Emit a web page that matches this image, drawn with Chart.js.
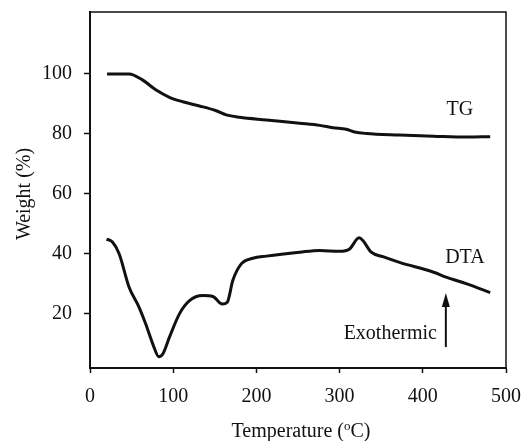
<!DOCTYPE html>
<html>
<head>
<meta charset="utf-8">
<script src="https://cdn.jsdelivr.net/npm/chart.js@4/dist/chart.umd.min.js"></script>
<style>
  html,body{margin:0;padding:0;background:#fff;}
  #wrap{width:529px;height:441px;position:relative;}
</style>
</head>
<body>
<div id="wrap"><canvas id="c"></canvas></div>
<script>
// TG curve (temperature °C, weight %)
const tgTemp = [20.5,47,63,79.5,95.5,111.5,131.6,151.7,163.7,179.8,212,252,276,292,308,318,332,372,413,453,481];
const tgVal  = [100,100,98,94.6,92.2,90.7,89.3,87.7,86.3,85.5,84.6,83.5,82.8,82,81.5,80.6,80.1,79.6,79.2,78.9,79];
// DTA curve
const dtaTemp = [20,27,35,47,59,67,75.5,82.7,87.5,95.5,107.5,119.6,135.6,147.7,159,165,171.7,181.8,195.8,212,252,276,300,312,323.5,328,338,352,372,413,429,453,481];
const dtaVal  = [44.8,43.8,39.9,28.7,22,16.4,9.7,5.5,6.4,12,19.8,24.2,25.9,25.6,23.1,23.7,31,36.5,38.4,39.1,40.4,41,40.7,41.5,45.2,44.3,40.4,38.9,37,33.7,32,29.8,26.9];
const xTicks = [0,100,200,300,400,500];
const yTicks = [20,40,60,80,100];

const FONT = "'Liberation Serif','Times New Roman',serif";
const INK = '#111';
const FS = 20;
const pts = (xs,ys)=>xs.map((x,i)=>({x,y:ys[i]}));

const extras = {
  id:'extras',
  afterDraw(chart){
    const {ctx,chartArea:a,scales:{x,y}}=chart;
    ctx.save();
    // frame top + right
    ctx.strokeStyle=INK; ctx.lineWidth=1.5;
    ctx.beginPath(); ctx.moveTo(a.left,a.top); ctx.lineTo(a.right,a.top); ctx.lineTo(a.right,a.bottom); ctx.stroke();
    ctx.fillStyle=INK; ctx.font=FS+'px '+FONT; ctx.textBaseline='middle';
    ctx.textAlign='center';
    ctx.fillText('TG', x.getPixelForValue(444.6), y.getPixelForValue(88));
    ctx.fillText('DTA', x.getPixelForValue(450.6), y.getPixelForValue(38.5));
    ctx.textAlign='right';
    ctx.fillText('Exothermic', x.getPixelForValue(417), y.getPixelForValue(13.2));
    // arrow
    const ax=x.getPixelForValue(427.7), y0=y.getPixelForValue(8.7), y1=y.getPixelForValue(26.8);
    ctx.lineWidth=2;
    ctx.beginPath(); ctx.moveTo(ax,y0); ctx.lineTo(ax,y1+10); ctx.stroke();
    ctx.beginPath(); ctx.moveTo(ax,y1); ctx.lineTo(ax-4,y1+14); ctx.lineTo(ax+4,y1+14); ctx.closePath(); ctx.fill();
    // axis titles
    const tx=(a.left+a.right)/2+3, ty=432;
    const t1='Temperature (', t2='C)';
    ctx.font=FS+'px '+FONT;
    const w1=ctx.measureText(t1).width, w2=ctx.measureText(t2).width;
    ctx.font='13px '+FONT; const wo=ctx.measureText('o').width;
    const sx=tx-(w1+wo+w2)/2;
    ctx.textAlign='left'; ctx.font=FS+'px '+FONT;
    ctx.fillText(t1,sx,ty);
    ctx.font='13px '+FONT; ctx.fillText('o',sx+w1,ty-5);
    ctx.font=FS+'px '+FONT; ctx.fillText(t2,sx+w1+wo,ty);
    ctx.translate(25,(a.top+a.bottom)/2+4); ctx.rotate(-Math.PI/2);
    ctx.textAlign='center'; ctx.fillText('Weight (%)',0,0);
    ctx.restore();
  }
};

new Chart(document.getElementById('c'),{
  type:'line',
  data:{datasets:[
    {label:'TG',data:pts(tgTemp,tgVal),borderColor:INK,borderWidth:3,pointRadius:0,cubicInterpolationMode:'monotone',fill:false},
    {label:'DTA',data:pts(dtaTemp,dtaVal),borderColor:INK,borderWidth:3,pointRadius:0,cubicInterpolationMode:'monotone',fill:false}
  ]},
  options:{
    responsive:true,maintainAspectRatio:false,animation:false,
    layout:{padding:{top:12,right:23,left:0,bottom:0}},
    plugins:{legend:{display:false},tooltip:{enabled:false}},
    scales:{
      x:{type:'linear',min:0,max:500,
        afterBuildTicks:s=>{s.ticks=xTicks.map(v=>({value:v}));},
        afterFit:s=>{s.height=73;s.paddingLeft=0;s.paddingRight=0;},
        grid:{drawOnChartArea:false,drawTicks:true,tickLength:5,tickWidth:1.5,color:INK},
        border:{color:INK,width:2},
        ticks:{color:INK,font:{family:FONT,size:FS},padding:12,maxRotation:0}},
      y:{type:'linear',min:1.7,max:120.7,
        afterBuildTicks:s=>{s.ticks=yTicks.map(v=>({value:v}));},
        afterFit:s=>{s.width=90;s.paddingTop=0;s.paddingBottom=0;},
        grid:{drawOnChartArea:false,drawTicks:true,tickLength:6,tickWidth:1.5,color:INK},
        border:{color:INK,width:2},
        ticks:{color:INK,font:{family:FONT,size:FS},padding:12}}
    }
  },
  plugins:[extras]
});
</script>
</body>
</html>
